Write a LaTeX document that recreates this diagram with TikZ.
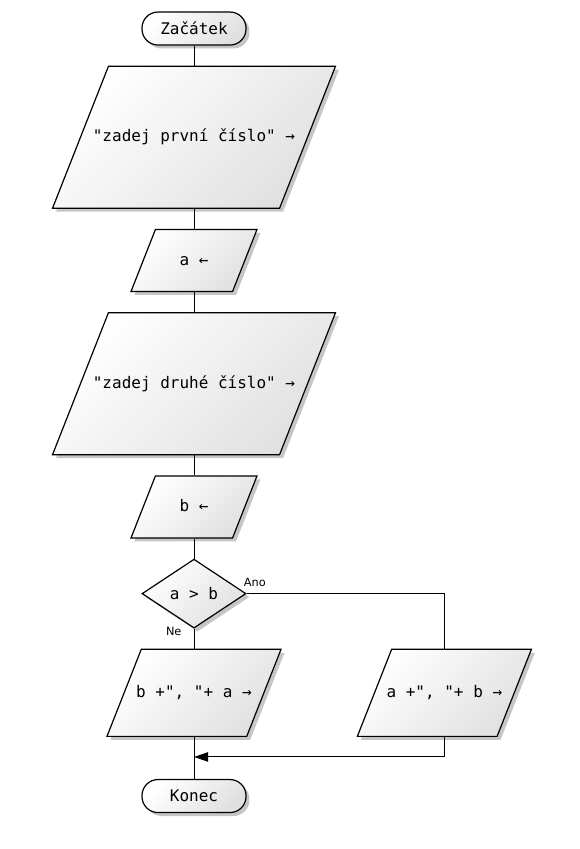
\documentclass[tikz,border=0pt]{standalone}
\usepackage{fontspec}
\setmonofont{DejaVu Sans Mono}
\setsansfont{DejaVu Sans}
\usepackage{tikz}
\usetikzlibrary{arrows.meta,positioning,shapes.geometric,shadows}

\begin{document}
\begin{tikzpicture}[
  node distance=15pt,
  base/.style={draw=black, line width=0.9pt,
               font=\ttfamily\fontsize{12}{14}\selectfont,
               left color=white, right color=black!12, shading angle=45,
               drop shadow={shadow xshift=2.6pt, shadow yshift=-2.6pt, opacity=0.45}},
  term/.style={base, rectangle, rounded corners=12pt, minimum width=78pt,
               minimum height=24.75pt, inner sep=0pt},
  % parallelogram: the text is set in a box of zero width, so the shape size comes from the seps
  io/.style={base, trapezium, trapezium left angle=68.5, trapezium right angle=111.5,
             inner ysep=0pt,
             execute at begin node={\setbox0=\hbox\bgroup},
             execute at end node={\egroup\hbox to 0pt{\hss\box0\hss}}},
  bigio/.style={io, text height=56.75pt, text depth=49.75pt, inner xsep=64.17pt},
  smallio/.style={io, text height=26.75pt, text depth=19.75pt, inner xsep=28.93pt},
  outio/.style={io, text height=36.13pt, text depth=29.13pt, inner xsep=39.55pt},
  decision/.style={base, diamond, minimum width=78pt, minimum height=51.75pt, inner sep=0pt},
  line/.style={draw=black, line width=0.75pt},
  arrow/.style={line, -{Triangle[length=10.5pt, width=7pt]}},
  lbl/.style={font=\sffamily\fontsize{8.5}{10}\selectfont, inner sep=0pt}
]
\useasboundingbox (0,0) rectangle (435pt,-636.75pt);
\node[term] (start) at (145.5pt,-21.4pt) {Začátek};
\node[bigio, below=of start] (ask1) {"zadej první číslo" →};
\node[smallio, below=of ask1] (geta) {a ←};
\node[bigio, below=of geta] (ask2) {"zadej druhé číslo" →};
\node[smallio, below=of ask2] (getb) {b ←};
\node[decision, below=of getb] (cmp) {a > b};
\node[outio, below=of cmp] (outba) {b +", "+ a →};
\node[outio, right=82pt of outba] (outab) {a +", "+ b →};
\node[term, below=31.5pt of outba] (finish) {Konec};
\coordinate[below=15pt of outba.south] (merge);
\node[lbl, anchor=south west] (ano) at ([xshift=-2.25pt, yshift=5pt]cmp.east) {Ano};
\node[lbl, anchor=north east] (ne) at ([xshift=-9.2pt, yshift=1.5pt]cmp.south) {Ne};
\draw[line] (start) -- (ask1);
\draw[line] (ask1) -- (geta);
\draw[line] (geta) -- (ask2);
\draw[line] (ask2) -- (getb);
\draw[line] (getb) -- (cmp);
\draw[line] (cmp) -- (outba);
\draw[line] (cmp.east) -| (outab);
\draw[arrow] (outab) |- (merge);
\draw[line] (outba) -- (finish);
\end{tikzpicture}
\end{document}
